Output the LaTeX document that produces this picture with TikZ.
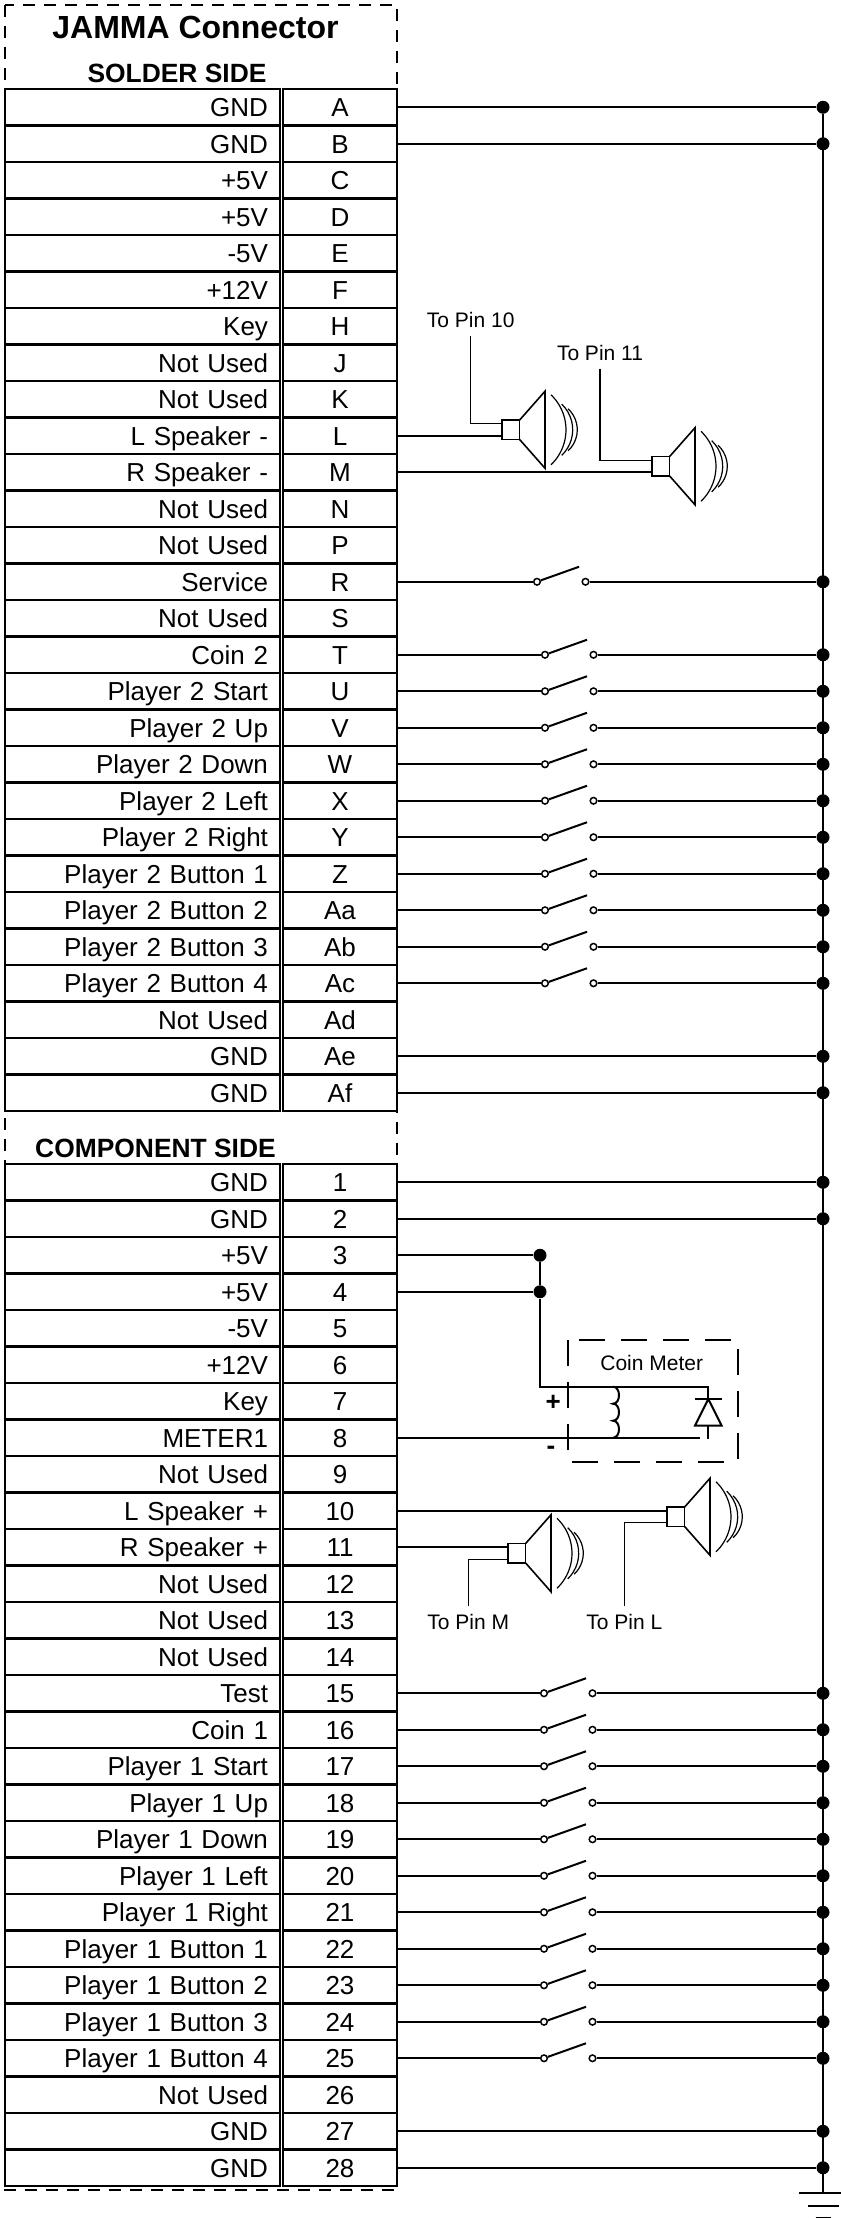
\documentclass[tikz,border=0pt]{standalone}
\usepackage{fontspec}
\setmainfont{Liberation Sans}
\usetikzlibrary{positioning}
\usetikzlibrary{calc}

\tikzset{
  rowtext/.style={font=\fontsize{13}{15}\selectfont, text height=9.3pt, text depth=0pt},
  lblcell/.style={rowtext, draw, line width=1.2pt, outer sep=0pt, inner ysep=0pt, inner xsep=6pt, minimum height=18.25pt, text width=125.5pt, align=right, anchor=east},
  pincell/.style={rowtext, draw, line width=1.2pt, outer sep=0pt, inner sep=0pt, minimum height=18.25pt, minimum width=57pt, right=1.5pt of #1},
  titletext/.style={font=\bfseries\fontsize{16}{18}\selectfont, inner sep=0pt, text height=11.5pt, text depth=0pt},
  sidetext/.style={font=\bfseries\fontsize{13.2}{15}\selectfont, inner sep=0pt, text height=9.4pt, text depth=0pt},
  note/.style={font=\fontsize{10.5}{12}\selectfont, inner sep=0pt, outer sep=4.2pt, text height=7.6pt, text depth=0pt},
  signtext/.style={font=\bfseries\fontsize{13}{15}\selectfont, inner sep=0pt},
  outline/.style={line width=1pt, dash pattern=on 6pt off 4.5pt},
  meterbox/.style={line width=0.9pt, dash pattern=on 13pt off 8pt},
  wire/.style={line width=1pt},
  thinwire/.style={line width=0.65pt},
  jdot/.style={circle, fill, inner sep=0pt, minimum size=6.5pt},
  swpt/.style={circle, draw, fill=white, line width=0.75pt, inner sep=0pt, minimum size=3.3pt},
  speaker/.pic={
    \draw[line width=0.8pt] (0,-9.6) rectangle (17.5,9.6);
    \draw[line width=0.8pt] (17.5,-9.6) -- (43,-38.5) -- (43,38.5) -- (17.5,9.6);
    \draw[line width=0.6pt] (49,35) arc[start angle=46.4, end angle=-46.4, radius=48.3];
    \draw[line width=0.6pt] (59.7,25.6) arc[start angle=46.5, end angle=-46.5, radius=35.3];
    \draw[line width=0.6pt] (66.1,21) arc[start angle=47.2, end angle=-47.2, radius=28.6];
    \coordinate (-hi) at (0,-6);
    \coordinate (-lo) at (0,6);
  }
}

\begin{document}
\begin{tikzpicture}[x=0.5pt, y=-0.5pt]
\useasboundingbox (0,0) rectangle (841,2218);
\coordinate (bus) at (823,0);
\coordinate (gnd) at (823,2193);

\draw[outline] (5,5) rectangle (397,2190);
\node[titletext] (title) at (195.5,26.5) {JAMMA Connector};
\node[sidetext] (solder) at (177,73.3) {SOLDER SIDE};
\node[sidetext] (component) at (155.5,1148) {COMPONENT SIDE};

\foreach \t/\p [count=\i] in {GND/A, GND/B, +5V/C, +5V/D, -5V/E, +12V/F, Key/H, Not Used/J, Not Used/K, L Speaker -/L, R Speaker -/M, Not Used/N, Not Used/P, Service/R, Not Used/S, Coin 2/T, Player 2 Start/U, Player 2 Up/V, Player 2 Down/W, Player 2 Left/X, Player 2 Right/Y, Player 2 Button 1/Z, Player 2 Button 2/Aa, Player 2 Button 3/Ab, Player 2 Button 4/Ac, Not Used/Ad, GND/Ae, GND/Af}
{
  \pgfmathsetmacro\yy{89+36.5*(\i-0.5)}
  \node[lblcell] (sl\p) at (280,\yy) {\t};
  \node[pincell=sl\p] (s\p) {\p};
}

\foreach \t/\p [count=\i] in {GND/1, GND/2, +5V/3, +5V/4, -5V/5, +12V/6, Key/7, METER1/8, Not Used/9, L Speaker +/10, R Speaker +/11, Not Used/12, Not Used/13, Not Used/14, Test/15, Coin 1/16, Player 1 Start/17, Player 1 Up/18, Player 1 Down/19, Player 1 Left/20, Player 1 Right/21, Player 1 Button 1/22, Player 1 Button 2/23, Player 1 Button 3/24, Player 1 Button 4/25, Not Used/26, GND/27, GND/28}
{
  \pgfmathsetmacro\yy{1164+36.5*(\i-0.5)}
  \node[lblcell] (cl\p) at (280,\yy) {\t};
  \node[pincell=cl\p] (c\p) {\p};
}

\foreach \p in {A,B,Ae,Af}
{
  \node[jdot] (gs\p) at (s\p.east -| bus) {};
  \draw[wire] (s\p.east) -- (gs\p);
}
\foreach \p in {1,2,27,28}
{
  \node[jdot] (gc\p) at (c\p.east -| bus) {};
  \draw[wire] (c\p.east) -- (gc\p);
}

\foreach \p/\xa in {R/537, T/545, U/545, V/545, W/545, X/545, Y/545, Z/545, Aa/545, Ab/545, Ac/545}
{
  \node[jdot] (gs\p) at (s\p.east -| bus) {};
  \node[swpt] (sa\p) at (s\p.east -| \xa,0) {};
  \node[swpt] (sb\p) at ($(sa\p)+(48.5,0)$) {};
  \draw[wire] (s\p.east) -- (sa\p);
  \draw[wire] (sb\p) -- (gs\p);
  \draw[wire] (sa\p.20) -- ($(sa\p)+(42,-15)$);
}
\foreach \p in {15,...,25}
{
  \node[jdot] (gc\p) at (c\p.east -| bus) {};
  \node[swpt] (ca\p) at (c\p.east -| 544,0) {};
  \node[swpt] (cb\p) at ($(ca\p)+(48.5,0)$) {};
  \draw[wire] (c\p.east) -- (ca\p);
  \draw[wire] (cb\p) -- (gc\p);
  \draw[wire] (ca\p.20) -- ($(ca\p)+(42,-15)$);
}

\draw[wire] (gsA) -- (gnd);
\draw[wire] ($(gnd)+(-24,0)$) -- ($(gnd)+(24,0)$);
\draw[wire] ($(gnd)+(-15.5,13)$) -- ($(gnd)+(15.5,13)$);
\draw[wire] ($(gnd)+(-7.5,24.5)$) -- ($(gnd)+(7.5,24.5)$);

\pic (spkL) at (502,429.75) {speaker};
\pic (spkM) at (652,466.25) {speaker};
\draw[wire] (sL.east) -- (spkL-lo);
\draw[wire] (sM.east) -- (spkM-lo);
\node[note] (tp10) at (470.7,320) {To Pin 10};
\node[note] (tp11) at (600,352.7) {To Pin 11};
\draw[thinwire] (tp10.south) |- (spkL-hi);
\draw[thinwire] (tp11.south) |- (spkM-hi);

\pic (spkA) at (667,1516.75) {speaker};
\pic (spkB) at (508,1553.25) {speaker};
\draw[wire] (c10.east) -- (spkA-hi);
\draw[wire] (c11.east) -- (spkB-hi);
\node[note] (tpM) at (468.3,1621.7) {To Pin M};
\node[note] (tpL) at (624.3,1621.7) {To Pin L};
\draw[thinwire] (tpM.north) |- (spkB-lo);
\draw[thinwire] (tpL.north) |- (spkA-lo);

\coordinate (jx) at (540,0);
\node[jdot] (j3) at (c3.east -| jx) {};
\node[jdot] (j4) at (c4.east -| jx) {};
\coordinate (mtop) at (540,1386.7);
\coordinate (dtop) at (708.3,1386.7);
\coordinate (dbar) at (708.3,1399);
\coordinate (mbot) at (700,1437.75);
\draw[wire] (c3.east) -- (j3);
\draw[wire] (c4.east) -- (j4);
\draw[wire] (j3) -- (j4) -- (mtop) -- (dtop) -- (dbar);
\draw[wire] (c8.east) -- (mbot);
\draw[wire] (613,1386.7) .. controls (621,1386.7) and (621,1403.7) .. (613,1403.7)
  .. controls (621,1403.7) and (621,1420.7) .. (613,1420.7)
  .. controls (621,1420.7) and (621,1437.75) .. (613,1437.75);
\draw[wire] (695,1399) -- (721.7,1399);
\draw[wire] (dbar) -- (695,1425.7) -- (721.7,1425.7) -- cycle;
\draw[wire] (708.3,1425.7) -- (708.3,1439);
\draw[meterbox] (567.7,1340) rectangle (737.7,1461.7);
\node[note, outer sep=0pt] (meter) at (651.7,1363.3) {Coin Meter};
\node[signtext] (mplus) at (553.3,1403.3) {+};
\node[signtext] (mminus) at (551,1450) {-};
\end{tikzpicture}
\end{document}
